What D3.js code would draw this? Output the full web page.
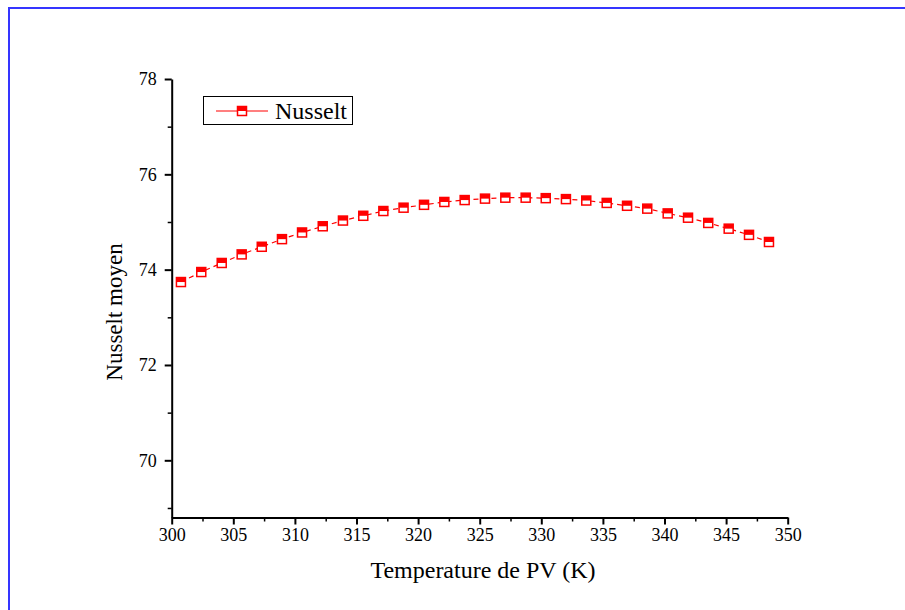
<!DOCTYPE html>
<html lang="en">
<head>
  <meta charset="utf-8">
  <title>Nusselt moyen</title>
  <script src="https://cdn.jsdelivr.net/npm/d3@7"></script>
  <style>
    body { margin: 0; background: #fff; }
    text { font-family: "Liberation Serif", "Times New Roman", serif; fill: #000; }
  </style>
</head>
<body>
  <script>
    // values
    var temps = [300.75, 302.40, 304.06, 305.68, 307.31, 308.95, 310.58, 312.26, 313.90, 315.55,
                 317.18, 318.82, 320.48, 322.13, 323.78, 325.43, 327.08, 328.73, 330.36, 332.00,
                 333.65, 335.31, 336.96, 338.60, 340.26, 341.91, 343.55, 345.21, 346.86, 348.48];
    var nusselt = [73.74, 73.95, 74.14, 74.32, 74.48, 74.64, 74.78, 74.91, 75.03, 75.13,
                   75.23, 75.30, 75.36, 75.42, 75.46, 75.49, 75.51, 75.51, 75.50, 75.48,
                   75.45, 75.40, 75.34, 75.28, 75.18, 75.09, 74.98, 74.86, 74.73, 74.58];
    var xTicks = [300, 305, 310, 315, 320, 325, 330, 335, 340, 345, 350];
    var yTicks = [70, 72, 74, 76, 78];
    var seriesName = "Nusselt";

    var width = 905, height = 610;
    var red = "#ff0000";
    var serif = "'Liberation Serif', 'Times New Roman', serif";

    var svg = d3.select("body").append("svg")
      .attr("width", width)
      .attr("height", height);

    // blue frame (only top and left edges are visible)
    svg.append("rect")
      .attr("x", 9).attr("y", 8)
      .attr("width", 1200).attr("height", 1200)
      .attr("fill", "none")
      .attr("stroke", "#3535ff")
      .attr("stroke-width", 2);

    var xScale = d3.scaleLinear().domain([300, 350]).range([171.7, 787.7]);
    var yScale = d3.scaleLinear().domain([68.8, 78]).range([517.5, 79]);

    var data = temps.map(function(t, i) { return { t: t, v: nusselt[i] }; });

    // minor ticks
    var xMinor = d3.axisBottom(xScale)
      .tickValues(d3.range(302.5, 350, 5))
      .tickSize(4).tickFormat("");
    svg.append("g")
      .attr("transform", "translate(0," + yScale.range()[0] + ")")
      .call(xMinor)
      .call(function(g) { g.select(".domain").remove(); })
      .selectAll("line").attr("stroke", "#000").attr("stroke-width", 1.5);

    var yMinor = d3.axisLeft(yScale)
      .tickValues([69, 71, 73, 75, 77])
      .tickSize(4).tickFormat("");
    svg.append("g")
      .attr("transform", "translate(" + xScale.range()[0] + ",0)")
      .call(yMinor)
      .call(function(g) { g.select(".domain").remove(); })
      .selectAll("line").attr("stroke", "#000").attr("stroke-width", 1.5);

    // major axes
    var xAxis = d3.axisBottom(xScale).tickValues(xTicks).tickSize(7).tickPadding(4).tickSizeOuter(0);
    var gx = svg.append("g")
      .attr("transform", "translate(0," + yScale.range()[0] + ")")
      .call(xAxis)
      .attr("font-family", serif)
      .attr("font-size", 18);
    gx.select(".domain").attr("stroke-width", 2);
    gx.selectAll(".tick line").attr("stroke-width", 2);
    gx.selectAll("text").style("font-family", serif).style("font-size", "18px");

    var yAxis = d3.axisLeft(yScale).tickValues(yTicks).tickSize(7).tickPadding(8).tickSizeOuter(0);
    var gy = svg.append("g")
      .attr("transform", "translate(" + xScale.range()[0] + ",0)")
      .call(yAxis)
      .attr("font-family", serif)
      .attr("font-size", 18);
    gy.select(".domain").attr("stroke-width", 2);
    gy.selectAll(".tick line").attr("stroke-width", 2);
    gy.selectAll("text").style("font-family", serif).style("font-size", "18px");

    // axis titles
    svg.append("text")
      .attr("x", 483).attr("y", 578)
      .attr("text-anchor", "middle")
      .style("font-size", "24px")
      .text("Temperature de PV (K)");

    svg.append("text")
      .attr("transform", "translate(122,312) rotate(-90)")
      .attr("text-anchor", "middle")
      .style("font-size", "23px")
      .text("Nusselt moyen");

    // series line
    var line = d3.line()
      .x(function(d) { return xScale(d.t); })
      .y(function(d) { return yScale(d.v); });

    svg.append("path")
      .datum(data)
      .attr("d", line)
      .attr("fill", "none")
      .attr("stroke", red)
      .attr("stroke-width", 1.2)
      .attr("stroke-dasharray", "5,4");

    function halfSquare(g) {
      g.append("rect")
        .attr("x", -4.5).attr("y", -4.5)
        .attr("width", 9).attr("height", 9)
        .attr("fill", "#fff")
        .attr("stroke", red)
        .attr("stroke-width", 1.5);
      g.append("rect")
        .attr("x", -4.5).attr("y", -4.5)
        .attr("width", 9).attr("height", 4.5)
        .attr("fill", red);
    }

    svg.selectAll(".marker")
      .data(data)
      .enter()
      .append("g")
      .attr("class", "marker")
      .attr("transform", function(d) {
        return "translate(" + xScale(d.t) + "," + yScale(d.v) + ")";
      })
      .each(function() { halfSquare(d3.select(this)); });

    // legend
    var legend = svg.append("g");
    legend.append("rect")
      .attr("x", 203.5).attr("y", 96.5)
      .attr("width", 149).attr("height", 28)
      .attr("fill", "#fff")
      .attr("stroke", "#000")
      .attr("stroke-width", 1);
    legend.append("line")
      .attr("x1", 216).attr("x2", 268)
      .attr("y1", 111).attr("y2", 111)
      .attr("stroke", red)
      .attr("stroke-width", 1.2);
    legend.append("g")
      .attr("transform", "translate(242,111)")
      .call(halfSquare);
    legend.append("text")
      .attr("x", 275).attr("y", 119)
      .style("font-size", "24px")
      .text(seriesName);
  </script>
</body>
</html>
